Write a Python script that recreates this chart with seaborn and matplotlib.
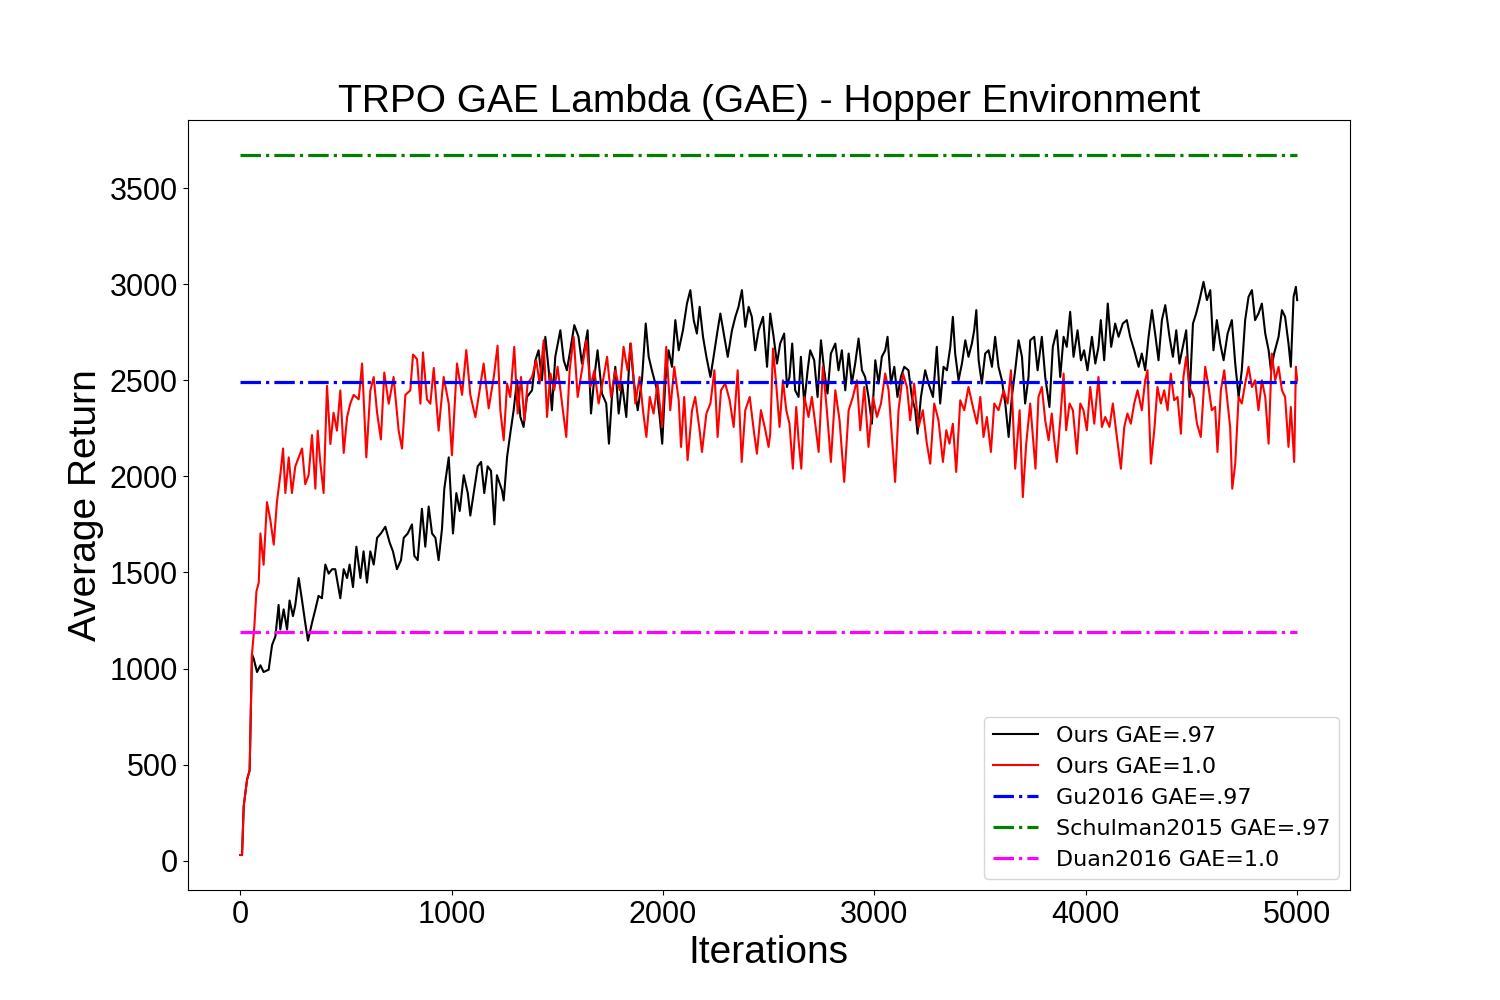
import matplotlib
matplotlib.use("Agg")
import matplotlib.pyplot as plt
import seaborn as sns

# values (iteration, average return)
black_iters = [0, 8, 16, 32, 44, 55, 63, 79, 95, 110, 134, 150, 166, 181, 189, 205, 221, 233, 249, 260,
               276, 292, 307, 320, 339, 355, 370, 386, 402, 418, 434, 449, 473, 489, 505, 517, 533, 549, 568, 583,
               599, 615, 631, 647, 665, 686, 706, 722, 741, 760, 773, 792, 812, 823, 839, 859, 875, 891, 907, 923,
               938, 954, 965, 986, 994, 1006, 1022, 1038, 1057, 1076, 1088, 1104, 1123, 1139, 1154, 1170, 1186, 1202, 1214, 1238,
               1246, 1262, 1277, 1293, 1309, 1325, 1340, 1356, 1380, 1396, 1411, 1427, 1443, 1459, 1474, 1490, 1514, 1530, 1545, 1561,
               1580, 1600, 1616, 1643, 1659, 1675, 1690, 1711, 1731, 1744, 1758, 1774, 1790, 1806, 1826, 1845, 1861, 1880, 1900, 1918,
               1932, 1947, 1968, 1984, 1996, 2011, 2026, 2042, 2058, 2074, 2094, 2113, 2129, 2145, 2160, 2173, 2189, 2205, 2224, 2239,
               2258, 2271, 2290, 2306, 2326, 2342, 2357, 2373, 2389, 2405, 2420, 2436, 2452, 2473, 2492, 2507, 2523, 2539, 2554, 2573,
               2586, 2598, 2611, 2625, 2641, 2652, 2668, 2684, 2696, 2715, 2731, 2747, 2762, 2778, 2794, 2815, 2830, 2846, 2862, 2878,
               2893, 2909, 2925, 2941, 2956, 2972, 2988, 3004, 3020, 3035, 3051, 3062, 3078, 3094, 3109, 3125, 3141, 3161, 3177, 3193,
               3204, 3220, 3240, 3256, 3277, 3295, 3311, 3327, 3343, 3359, 3371, 3382, 3398, 3414, 3430, 3445, 3461, 3472, 3482, 3493,
               3508, 3524, 3540, 3556, 3571, 3587, 3603, 3619, 3635, 3650, 3666, 3682, 3698, 3713, 3729, 3737, 3756, 3772, 3792, 3808,
               3828, 3844, 3863, 3879, 3895, 3910, 3926, 3942, 3961, 3977, 3992, 4008, 4029, 4045, 4060, 4071, 4087, 4104, 4120, 4139,
               4155, 4175, 4194, 4210, 4229, 4250, 4265, 4281, 4297, 4313, 4328, 4344, 4360, 4376, 4396, 4412, 4428, 4443, 4459, 4475,
               4491, 4507, 4522, 4538, 4557, 4573, 4589, 4604, 4620, 4636, 4652, 4671, 4691, 4707, 4723, 4738, 4754, 4770, 4786, 4801,
               4817, 4833, 4849, 4865, 4876, 4891, 4912, 4928, 4943, 4959, 4970, 4983, 4994, 5000]
black_values = [30, 30, 285, 424, 470, 1075, 1052, 982, 1017, 982, 994, 1122, 1168, 1331, 1203, 1308, 1203, 1354, 1273, 1331,
                1471, 1354, 1238, 1145, 1238, 1308, 1378, 1366, 1541, 1494, 1517, 1517, 1366, 1517, 1471, 1541, 1424, 1634, 1471, 1610,
                1447, 1610, 1541, 1680, 1703, 1738, 1657, 1610, 1517, 1564, 1680, 1703, 1750, 1587, 1564, 1831, 1634, 1843, 1703, 1680,
                1564, 1727, 1936, 2099, 1936, 1703, 1913, 1820, 2006, 1913, 1796, 1913, 2052, 2075, 1913, 2052, 2029, 1750, 2006, 1927,
                1875, 2101, 2222, 2344, 2500, 2309, 2257, 2413, 2448, 2604, 2656, 2500, 2726, 2552, 2344, 2622, 2760, 2604, 2552, 2656,
                2787, 2726, 2587, 2760, 2327, 2517, 2656, 2431, 2379, 2170, 2413, 2570, 2327, 2483, 2309, 2691, 2500, 2344, 2500, 2795,
                2622, 2552, 2465, 2309, 2170, 2500, 2656, 2570, 2813, 2656, 2760, 2899, 2969, 2813, 2743, 2882, 2726, 2622, 2517, 2622,
                2760, 2847, 2726, 2622, 2760, 2830, 2882, 2969, 2778, 2882, 2830, 2656, 2760, 2830, 2570, 2847, 2726, 2587, 2691, 2743,
                2465, 2517, 2691, 2448, 2413, 2622, 2379, 2552, 2656, 2604, 2413, 2708, 2552, 2431, 2639, 2691, 2552, 2656, 2448, 2639,
                2483, 2587, 2717, 2552, 2517, 2413, 2274, 2604, 2483, 2622, 2656, 2726, 2483, 2570, 2413, 2517, 2570, 2552, 2413, 2344,
                2222, 2413, 2552, 2483, 2413, 2674, 2379, 2570, 2552, 2674, 2830, 2639, 2500, 2587, 2708, 2622, 2691, 2760, 2865, 2604,
                2483, 2639, 2656, 2570, 2726, 2570, 2500, 2379, 2205, 2413, 2552, 2708, 2622, 2379, 2517, 2708, 2726, 2552, 2726, 2517,
                2361, 2674, 2760, 2517, 2726, 2674, 2856, 2622, 2760, 2604, 2656, 2552, 2726, 2587, 2674, 2813, 2604, 2899, 2674, 2795,
                2726, 2795, 2813, 2726, 2656, 2570, 2639, 2552, 2726, 2865, 2743, 2604, 2813, 2891, 2726, 2622, 2760, 2587, 2674, 2760,
                2413, 2795, 2847, 2917, 3012, 2917, 2969, 2656, 2813, 2691, 2604, 2743, 2813, 2587, 2413, 2552, 2813, 2934, 2969, 2813,
                2847, 2899, 2743, 2656, 2552, 2639, 2726, 2865, 2830, 2691, 2570, 2934, 2986, 2917]

red_iters = [0, 8, 16, 32, 44, 55, 66, 76, 87, 95, 110, 118, 126, 142, 158, 173, 189, 202, 213, 229,
             244, 260, 276, 292, 307, 323, 339, 355, 366, 378, 394, 410, 426, 441, 457, 473, 489, 505, 520, 536,
             560, 576, 596, 615, 631, 647, 665, 681, 702, 725, 749, 765, 781, 804, 817, 836, 852, 864, 883, 899,
             915, 938, 962, 986, 1001, 1025, 1049, 1069, 1088, 1112, 1132, 1151, 1175, 1199, 1217, 1230, 1246, 1262, 1277, 1296,
             1312, 1328, 1344, 1359, 1380, 1400, 1416, 1435, 1451, 1467, 1485, 1501, 1522, 1542, 1558, 1577, 1596, 1616, 1637, 1656,
             1675, 1695, 1716, 1735, 1754, 1774, 1795, 1813, 1832, 1848, 1869, 1889, 1905, 1921, 1937, 1955, 1974, 1995, 2015, 2034,
             2053, 2074, 2085, 2100, 2116, 2137, 2152, 2173, 2184, 2205, 2224, 2243, 2258, 2274, 2294, 2315, 2334, 2353, 2372, 2389,
             2410, 2429, 2444, 2463, 2484, 2499, 2507, 2520, 2535, 2551, 2567, 2583, 2598, 2614, 2630, 2641, 2654, 2669, 2688, 2704,
             2720, 2736, 2756, 2775, 2794, 2815, 2835, 2857, 2878, 2898, 2917, 2933, 2952, 2972, 2993, 3012, 3031, 3051, 3067, 3083,
             3098, 3114, 3135, 3154, 3169, 3188, 3209, 3229, 3248, 3264, 3283, 3303, 3324, 3340, 3355, 3371, 3387, 3406, 3425, 3445,
             3466, 3485, 3501, 3516, 3532, 3551, 3567, 3587, 3611, 3630, 3646, 3666, 3687, 3702, 3718, 3737, 3750, 3762, 3776, 3792,
             3808, 3824, 3839, 3851, 3863, 3879, 3895, 3907, 3923, 3939, 3958, 3974, 3989, 4005, 4021, 4040, 4060, 4076, 4092, 4112,
             4128, 4147, 4166, 4182, 4197, 4213, 4229, 4245, 4265, 4281, 4292, 4308, 4324, 4339, 4355, 4371, 4387, 4402, 4418, 4434,
             4450, 4462, 4475, 4491, 4510, 4526, 4544, 4565, 4581, 4596, 4612, 4623, 4639, 4655, 4671, 4683, 4693, 4707, 4723, 4738,
             4754, 4770, 4786, 4801, 4817, 4833, 4849, 4865, 4880, 4896, 4912, 4928, 4943, 4959, 4970, 4986, 4994, 5000]
red_values = [30, 30, 285, 424, 470, 1075, 1215, 1401, 1447, 1703, 1540, 1703, 1866, 1773, 1645, 1866, 2006, 2145, 1913, 2099,
              1913, 2052, 2099, 2145, 1959, 2006, 2215, 1936, 2238, 2075, 1913, 2471, 2168, 2331, 2238, 2447, 2122, 2308, 2378, 2424,
              2401, 2587, 2099, 2447, 2517, 2331, 2192, 2540, 2378, 2517, 2238, 2145, 2424, 2447, 2634, 2610, 2378, 2645, 2401, 2378,
              2564, 2238, 2517, 2378, 2110, 2587, 2424, 2657, 2424, 2308, 2447, 2587, 2354, 2517, 2680, 2344, 2188, 2483, 2413, 2674,
              2327, 2517, 2292, 2483, 2517, 2604, 2483, 2708, 2309, 2535, 2448, 2570, 2379, 2205, 2552, 2726, 2413, 2552, 2708, 2465,
              2552, 2379, 2500, 2622, 2413, 2552, 2448, 2674, 2552, 2691, 2379, 2517, 2344, 2205, 2413, 2327, 2483, 2257, 2674, 2344,
              2570, 2396, 2153, 2413, 2084, 2344, 2413, 2240, 2127, 2327, 2379, 2552, 2205, 2448, 2483, 2396, 2257, 2552, 2075, 2344,
              2413, 2240, 2118, 2344, 2240, 2153, 2222, 2665, 2483, 2257, 2500, 2344, 2274, 2040, 2361, 2188, 2040, 2413, 2309, 2413,
              2274, 2127, 2570, 2344, 2075, 2448, 2292, 1971, 2344, 2413, 2500, 2240, 2465, 2153, 2413, 2309, 2379, 2535, 2448, 2205,
              1971, 2344, 2535, 2465, 2292, 2483, 2257, 2344, 2170, 2066, 2379, 2292, 2075, 2240, 2170, 2274, 2023, 2396, 2344, 2465,
              2361, 2274, 2413, 2205, 2309, 2127, 2379, 2344, 2448, 2379, 2552, 2040, 2344, 1892, 2170, 2379, 2205, 2040, 2413, 2465,
              2292, 2188, 2327, 2188, 2075, 2292, 2535, 2240, 2379, 2344, 2118, 2379, 2344, 2240, 2465, 2274, 2517, 2257, 2309, 2257,
              2379, 2205, 2040, 2257, 2327, 2274, 2379, 2448, 2344, 2500, 2552, 2066, 2240, 2465, 2379, 2448, 2344, 2535, 2396, 2413,
              2222, 2517, 2622, 2465, 2413, 2274, 2205, 2570, 2465, 2344, 2361, 2127, 2448, 2552, 2379, 2257, 1936, 2066, 2413, 2379,
              2483, 2570, 2465, 2500, 2344, 2500, 2413, 2170, 2639, 2500, 2570, 2448, 2413, 2153, 2361, 2075, 2570, 2500]

# baseline results (constant lines)
baseline_names = ['Gu2016 GAE=.97', 'Schulman2015 GAE=.97', 'Duan2016 GAE=1.0']
baseline_values = [2490, 3672, 1188]
baseline_colors = ['blue', 'green', 'magenta']
x_span = [0, 5000]

plt.rcParams['font.family'] = ['Liberation Sans', 'DejaVu Sans']

fig, ax = plt.subplots(figsize=(15, 10), dpi=100)

sns.lineplot(x=black_iters, y=black_values, color='black', linewidth=1.5, label='Ours GAE=.97', ax=ax)
sns.lineplot(x=red_iters, y=red_values, color='red', linewidth=1.5, label='Ours GAE=1.0', ax=ax)
for name, val, col in zip(baseline_names, baseline_values, baseline_colors):
    sns.lineplot(x=x_span, y=[val, val], color=col, linestyle='-.', linewidth=2.3, label=name, ax=ax)

ax.set_title('TRPO GAE Lambda (GAE) - Hopper Environment', fontsize=28)
ax.set_xlabel('Iterations', fontsize=28)
ax.set_ylabel('Average Return', fontsize=28)
ax.tick_params(labelsize=22)
ax.legend(loc='lower right', prop={'family': 'DejaVu Sans', 'size': 16})

plt.savefig('out.png', dpi=100)
plt.close()
